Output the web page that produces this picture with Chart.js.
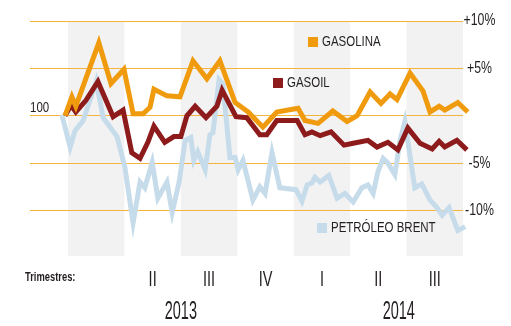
<!DOCTYPE html>
<html lang="es">
<head>
<meta charset="utf-8">
<title>Gasolina, gasoil y Brent</title>
<script src="https://cdn.jsdelivr.net/npm/chart.js@4.4.1/dist/chart.umd.min.js"></script>
<style>
  html, body { margin: 0; padding: 0; background: #ffffff; }
  #wrap { width: 511px; height: 326px; }
</style>
</head>
<body>
<div id="wrap"><canvas id="chart" width="511" height="326"></canvas></div>
<script>
// Weeks counted from 1 January 2013; values are % change against the base (100).
const gasolinaWeeks = [-0.7, 0.9, 1.8, 7.1, 9.9, 12.9, 15.0, 17.3, 18.9, 19.8, 22.8, 25.8, 28.8, 32.0, 35.0, 38.5, 41.5, 44.9, 48.1, 53.0, 54.6, 57.6, 61.0, 64.3, 66.6, 69.6, 72.1, 74.2, 75.8, 78.8, 81.8, 83.4, 85.5, 86.8, 89.8, 92.1];
const gasolinaPct   = [0, 2.0, 1.0, 7.7, 3.4, 4.9, 0.2, 0.2, 0.9, 2.8, 2.1, 2.0, 5.8, 3.9, 5.8, 1.4, 0.4, -1.2, 0.4, 0.8, -0.5, -0.8, 0.5, -0.6, 0, 2.5, 1.3, 2.3, 1.7, 4.5, 2.6, 0.4, 1.0, 0.6, 1.4, 0.4];

const gasoilWeeks = [-0.7, 0.7, 1.8, 4.1, 6.9, 10.4, 12.7, 14.7, 16.6, 18.4, 19.8, 22.3, 24.4, 26.0, 27.4, 29.3, 31.8, 34.3, 35.5, 38.7, 41.2, 44.2, 45.8, 48.1, 52.8, 54.6, 56.2, 58.1, 60.6, 63.6, 65.7, 69.1, 71.2, 73.7, 76.0, 78.3, 81.1, 83.9, 85.5, 86.8, 89.6, 91.9];
const gasoilPct   = [0, 1.1, 0.4, 1.6, 3.6, -0.1, 0.6, -3.9, -4.5, -2.8, -1.1, -2.8, -2.2, -2.2, 0, 1.0, -0.2, 1.0, 2.7, -0.1, -0.2, -2.0, -2.0, -0.5, -0.5, -2.0, -1.7, -2.1, -1.7, -3.1, -2.9, -2.6, -3.3, -2.8, -3.6, -1.3, -2.9, -3.5, -2.7, -3.3, -2.6, -3.6];

const brentWeeks = [-1.4, 0.5, 1.6, 3.5, 6.5, 8.1, 9.7, 11.3, 13.1, 15.0, 16.6, 17.7, 19.4, 20.7, 22.8, 24.0, 25.6, 27.0, 28.3, 29.0, 29.9, 31.6, 32.7, 33.4, 34.8, 35.7, 37.3, 38.5, 39.2, 40.3, 42.6, 44.2, 45.4, 47.0, 48.8, 52.5, 53.9, 55.1, 56.2, 56.9, 58.1, 60.1, 62.0, 63.8, 65.7, 67.7, 69.1, 70.3, 71.4, 72.6, 73.7, 75.3, 76.5, 77.6, 79.9, 81.5, 83.4, 85.0, 86.2, 87.8, 89.8, 91.5];
const brentPct   = [0.1, -3.3, -1.6, -0.5, 3.6, -0.2, -1.2, -2.2, -5.4, -11.3, -7.0, -7.6, -4.9, -8.7, -7.0, -10.2, -7.0, -2.6, -2.3, -4.7, -3.8, -5.7, -2.0, -1.8, 3.8, 3.3, -4.4, -4.4, -5.7, -4.7, -8.9, -7.5, -8.2, -3.9, -7.6, -7.8, -9.0, -7.3, -7.1, -6.5, -7.0, -6.3, -8.7, -8.2, -9.1, -7.6, -7.3, -8.2, -5.9, -4.5, -5.0, -6.2, -2.6, -0.6, -7.6, -7.2, -8.9, -9.7, -10.5, -9.7, -12.1, -11.7];

// Quarter structure of the time axis (in weeks)
const shadedQuarters = [[0, 13], [26, 39], [52, 65], [78, 91]];
const quarterLabels  = ['II', 'III', 'IV', 'I', 'II', 'III'];
const quarterCentres = [19.5, 32.5, 45.5, 58.5, 71.5, 84.5];
const yearLabels     = ['2013', '2014'];
const yearCentres    = [26, 76.2];

// Value axis
const yTickValues = [-10, -5, 0, 5, 10];
const yTickLabels = ['-10%', '-5%', '', '+5%', '+10%'];
const baseLabel   = '100';

const seriesNames = ['GASOLINA', 'GASOIL', 'PETRÓLEO BRENT'];

const COLORS = {
  gasolina: '#f09b0d',
  gasoil: '#8d1b1c',
  brent: '#c7dceb',
  band: '#f2f2f3',
  grid: '#f3b33c',
  text: '#231f20'
};
const FONT = "'Liberation Sans', Arial, sans-serif";

const toPoints = (xs, ys) => xs.map((x, i) => ({ x: x, y: ys[i] }));

// Legend boxes placed inside the plot
const legendItems = [
  { name: seriesNames[0], color: COLORS.gasolina, x: 308, y: 42 },
  { name: seriesNames[1], color: COLORS.gasoil,   x: 273, y: 83 },
  { name: seriesNames[2], color: COLORS.brent,    x: 317, y: 228 }
];

// Condensed text: the sans face squeezed horizontally
function drawText(ctx, text, x, y, size, opts) {
  const o = Object.assign({ weight: 'normal', align: 'left', squeeze: 0.82 }, opts || {});
  ctx.save();
  ctx.translate(x, y);
  ctx.scale(o.squeeze, 1);
  ctx.font = o.weight + ' ' + size + 'px ' + FONT;
  ctx.textAlign = o.align;
  ctx.textBaseline = 'middle';
  ctx.fillStyle = COLORS.text;
  ctx.fillText(text, 0, 0);
  ctx.restore();
}

const decorations = {
  id: 'decorations',
  beforeDraw(chart) {
    const { ctx, chartArea, scales } = chart;
    ctx.save();
    ctx.fillStyle = COLORS.band;
    shadedQuarters.forEach(([a, b]) => {
      const x0 = scales.x.getPixelForValue(a);
      const x1 = scales.x.getPixelForValue(b);
      ctx.fillRect(x0, chartArea.top, x1 - x0, chartArea.bottom - chartArea.top);
    });
    ctx.restore();
  },
  afterDraw(chart) {
    const { ctx, chartArea, scales } = chart;

    // value labels on the right of the grid lines
    yTickValues.forEach((v, i) => {
      if (yTickLabels[i]) {
        drawText(ctx, yTickLabels[i], chartArea.right + 16.5, scales.y.getPixelForValue(v), 16,
                 { align: 'center', squeeze: 0.77 });
      }
    });

    // base level label
    drawText(ctx, baseLabel, chartArea.left, scales.y.getPixelForValue(0) - 8, 14);

    // legend
    legendItems.forEach(item => {
      ctx.save();
      ctx.fillStyle = item.color;
      ctx.fillRect(item.x, item.y - 5, 10, 10);
      ctx.restore();
      drawText(ctx, item.name, item.x + 14, item.y + 0.5, 14);
    });

    // quarter row
    drawText(ctx, 'Trimestres:', 25, 278, 12, { weight: 'bold', squeeze: 0.78 });
    quarterLabels.forEach((q, i) => {
      drawText(ctx, q, scales.x.getPixelForValue(quarterCentres[i]), 280, 22, { align: 'center', squeeze: 0.66 });
    });
    yearLabels.forEach((y, i) => {
      drawText(ctx, y, scales.x.getPixelForValue(yearCentres[i]), 312, 25, { align: 'center', squeeze: 0.58 });
    });
  }
};

new Chart(document.getElementById('chart'), {
  type: 'line',
  data: {
    datasets: [
      { label: seriesNames[0], data: toPoints(gasolinaWeeks, gasolinaPct), borderColor: COLORS.gasolina, order: 1 },
      { label: seriesNames[1], data: toPoints(gasoilWeeks, gasoilPct), borderColor: COLORS.gasoil, order: 2 },
      { label: seriesNames[2], data: toPoints(brentWeeks, brentPct), borderColor: COLORS.brent, order: 3 }
    ]
  },
  options: {
    responsive: false,
    animation: false,
    devicePixelRatio: 1,
    layout: { padding: { left: 30, top: 21, right: 0, bottom: 70 } },
    datasets: { line: { clip: false } },
    elements: {
      point: { radius: 0, hoverRadius: 0 },
      line: { borderWidth: 5, tension: 0, fill: false, borderJoinStyle: 'miter' }
    },
    scales: {
      x: { type: 'linear', min: -8.75, max: 91, display: false },
      y: {
        position: 'right',
        min: -14.8,
        max: 10,
        afterBuildTicks: scale => { scale.ticks = yTickValues.map(v => ({ value: v })); },
        afterFit: scale => { scale.width = 48; },
        border: { display: false },
        grid: { color: COLORS.grid, lineWidth: 1, drawTicks: false },
        ticks: { display: false }
      }
    },
    plugins: { legend: { display: false }, tooltip: { enabled: false } }
  },
  plugins: [decorations]
});
</script>
</body>
</html>
